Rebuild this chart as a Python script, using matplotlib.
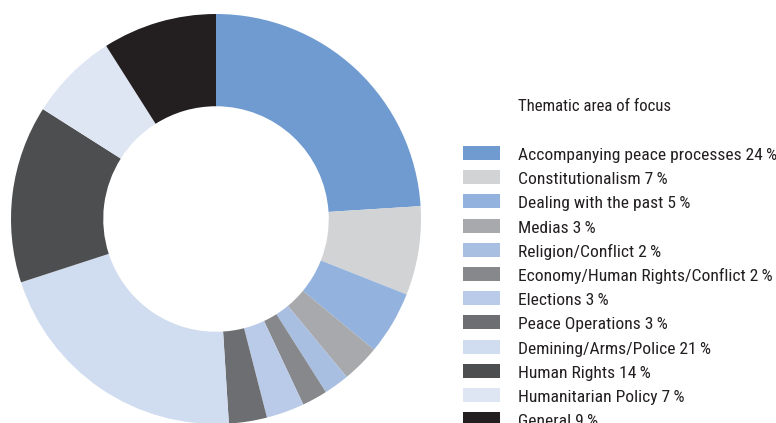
import matplotlib.pyplot as plt
from matplotlib.patches import Rectangle

labels = ['Accompanying peace processes', 'Constitutionalism', 'Dealing with the past',
          'Medias', 'Religion/Conflict', 'Economy/Human Rights/Conflict', 'Elections',
          'Peace Operations', 'Demining/Arms/Police', 'Human Rights',
          'Humanitarian Policy', 'General']
shares = [24, 7, 5, 3, 2, 2, 3, 3, 21, 14, 7, 9]
colors = ['#6f9bd1', '#d1d3d4', '#93b2de', '#a7a9ac', '#a8bfe1', '#87888c',
          '#b9cbe8', '#6d6e71', '#d0dcef', '#4d4e50', '#dfe6f3', '#231f20']
legend_title = 'Thematic area of focus'

plt.rcParams['font.family'] = ['Roboto Condensed', 'Liberation Sans Narrow', 'Roboto', 'DejaVu Sans']

W, H = 776, 423
fig = plt.figure(figsize=(W / 100, H / 100), dpi=100)

# donut
ax = fig.add_axes([11 / W, (H - 424) / H, 410 / W, 410 / H])
ax.pie(shares, colors=colors, startangle=90, counterclock=False, radius=1,
       wedgeprops=dict(width=0.45, linewidth=0))
ax.set_xlim(-1, 1)
ax.set_ylim(-1, 1)
ax.set_aspect('equal')
ax.axis('off')

# legend drawn by hand in pixel coordinates
lg = fig.add_axes([0, 0, 1, 1])
lg.set_xlim(0, W)
lg.set_ylim(H, 0)
lg.axis('off')
lg.patch.set_alpha(0)

lg.text(518, 111, legend_title, fontsize=12.1, color='#231f20', va='baseline')
for i, (lab, s, c) in enumerate(zip(labels, shares, colors)):
    y = 153 + i * 24.2
    lg.add_patch(Rectangle((463, y - 7), 37, 14, facecolor=c, edgecolor='none'))
    lg.text(518, y + 7, f'{lab} {s}\u2009%', fontsize=12.6, color='#231f20', va='baseline')

fig.savefig('out.png', dpi=100)
